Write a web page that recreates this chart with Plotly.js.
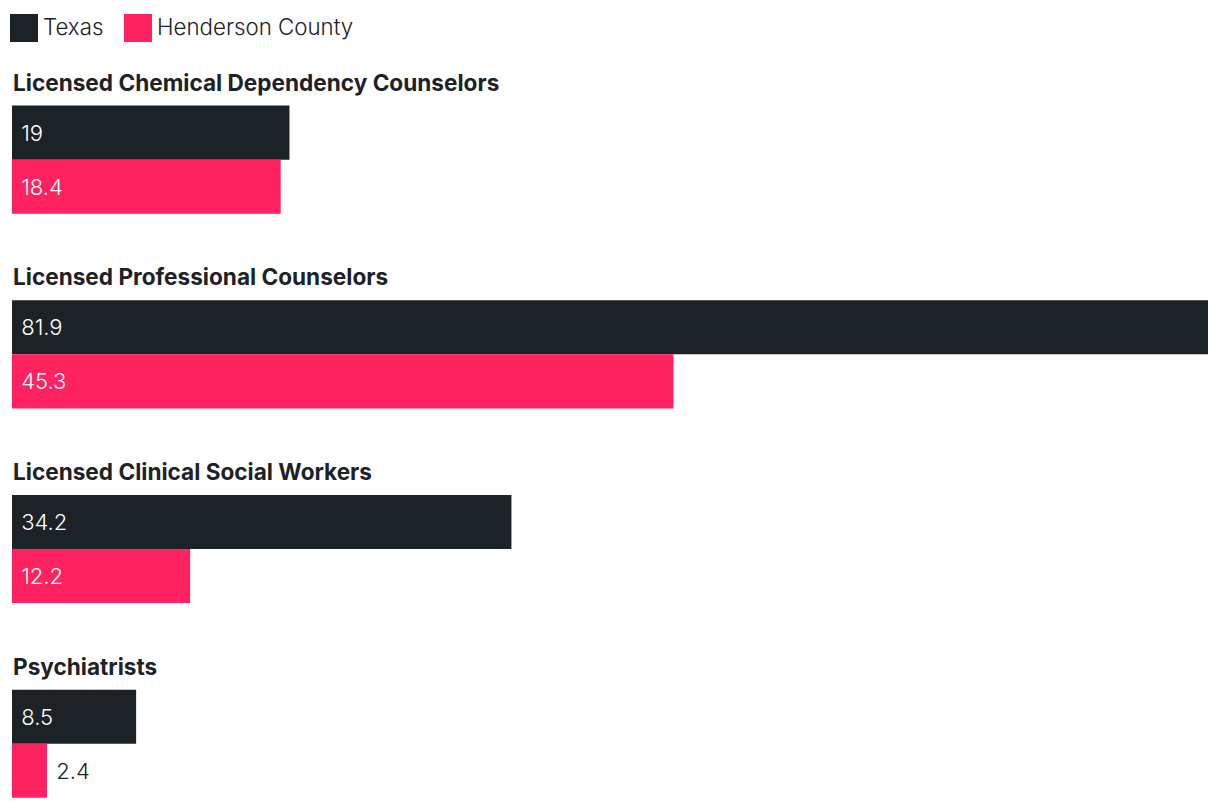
<!DOCTYPE html>
<html>
<head>
<meta charset="utf-8">
<script src="https://cdn.plot.ly/plotly-3.0.1.min.js"></script>
<style>
html,body{margin:0;padding:0;background:#fff;}
#chart{width:1220px;height:808px;}
</style>
</head>
<body>
<div id="chart"></div>
<script>
const categories = [
  "Licensed Chemical Dependency Counselors",
  "Licensed Professional Counselors",
  "Licensed Clinical Social Workers",
  "Psychiatrists"
];
const seriesNames = ["Texas", "Henderson County"];
const texasValues = [19, 81.9, 34.2, 8.5];
const hendersonValues = [18.4, 45.3, 12.2, 2.4];

const DARK = "#1c2226";
const PINK = "#ff2260";
const FONT = "Inter, 'Noto Sans', sans-serif";

function barTrace(name, values, color) {
  return {
    type: "bar",
    orientation: "h",
    name: name,
    x: values,
    y: categories,
    marker: {color: color, line: {width: 0}},
    texttemplate: "\u00a0%{x}",
    textposition: values.map(v => (v >= 5 ? "inside" : "outside")),
    textangle: 0,
    insidetextanchor: "start",
    insidetextfont: {family: FONT, size: 22, color: "#ffffff", weight: 300},
    outsidetextfont: {family: FONT, size: 22, color: DARK, weight: 300},
    constraintext: "none",
    cliponaxis: false,
    hoverinfo: "skip"
  };
}

const traces = [
  barTrace(seriesNames[0], texasValues, DARK),
  barTrace(seriesNames[1], hendersonValues, PINK)
];

const W = 1196, H = 808;
const annotations = categories.map(c => ({
  text: "<b>" + c + "</b>",
  x: 0, xref: "paper", xanchor: "left", xshift: -1,
  y: c, yref: "y", yanchor: "bottom", yshift: 62,
  showarrow: false,
  font: {family: FONT, size: 22.6, color: DARK}
}));

const legendColors = [DARK, PINK];
const legendSquareX = [10, 124];
const shapes = [];
seriesNames.forEach((n, i) => {
  const px = legendSquareX[i] - 12;
  shapes.push({
    type: "rect", xref: "paper", yref: "paper",
    x0: px / W, x1: (px + 28) / W,
    y0: 1 - 42 / H, y1: 1 - 14 / H,
    fillcolor: legendColors[i], line: {width: 0}
  });
  annotations.push({
    text: n, xref: "paper", yref: "paper",
    x: (px + 31) / W, y: 1 - 26 / H,
    xanchor: "left", yanchor: "middle",
    showarrow: false,
    font: {family: FONT, size: 22.3, color: DARK, weight: 300}
  });
});

const layout = {
  width: 1220, height: 808,
  margin: {l: 12, r: 12, t: 0, b: 0, pad: 0},
  paper_bgcolor: "#ffffff",
  plot_bgcolor: "#ffffff",
  barmode: "group",
  bargap: 0.445,
  bargroupgap: 0,
  showlegend: false,
  font: {family: FONT, color: DARK},
  xaxis: {range: [0, 81.9], visible: false, fixedrange: true},
  yaxis: {
    type: "category",
    range: [3.33, -0.82],
    visible: false,
    fixedrange: true
  },
  annotations: annotations,
  shapes: shapes
};

Plotly.newPlot("chart", traces, layout, {displayModeBar: false, staticPlot: true});
</script>
</body>
</html>
